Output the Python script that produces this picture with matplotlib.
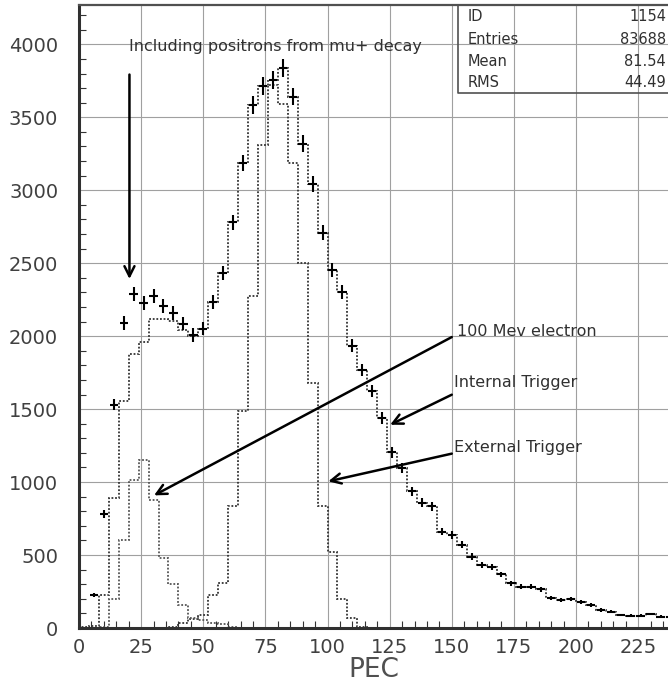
import numpy as np
import matplotlib
matplotlib.use("Agg")
import matplotlib.pyplot as plt
from matplotlib.ticker import MultipleLocator

# ---------------- data ----------------
bin_edges = np.arange(0, 244, 4)  # 0..240, 60 bins of 4 PEC

# all events (crosses), bin centres 6..238
cross_centers = np.arange(6, 242, 4)
cross_counts = [226, 780, 1530, 2090, 2290, 2225, 2275, 2205, 2160, 2085,
                2008, 2052, 2232, 2432, 2780, 3186, 3583, 3717, 3753, 3838,
                3642, 3320, 3040, 2708, 2453, 2305, 1934, 1768, 1622, 1439,
                1203, 1096, 936, 860, 833, 661, 638, 570, 489, 432,
                421, 368, 307, 284, 284, 265, 204, 192, 197, 181,
                158, 124, 112, 89, 85, 85, 96, 78, 74]

# internal trigger (dotted), one value per bin 0-4 .. 236-240
internal_counts = [5, 15, 226, 894, 1553, 1880, 1961, 2119, 2119, 2102,
                   2040, 2003, 2052, 2232, 2432, 2780, 3186, 3583, 3717, 3753,
                   3838, 3642, 3320, 3040, 2708, 2453, 2305, 1934, 1768, 1622,
                   1439, 1203, 1096, 936, 860, 833, 661, 638, 570, 489,
                   432, 421, 368, 307, 284, 284, 265, 204, 192, 197,
                   181, 158, 124, 112, 89, 85, 85, 96, 78, 74]

# external trigger (dotted)
external_counts = [0, 0, 0, 0, 0, 0, 0, 0, 0, 9,
                   32, 60, 89, 226, 307, 833, 1489, 2274, 3308, 3720,
                   3590, 3189, 2503, 1680, 833, 524, 197, 71, 5, 0,
                   0, 0, 0, 0, 0, 0, 0, 0, 0, 0,
                   0, 0, 0, 0, 0, 0, 0, 0, 0, 0,
                   0, 0, 0, 0, 0, 0, 0, 0, 0, 0]

# 100 MeV electron (dotted)
electron_counts = [0, 3, 10, 199, 604, 1011, 1148, 874, 478, 302,
                   158, 71, 55, 32, 25, 10, 0, 0, 0, 0,
                   0, 0, 0, 0, 0, 0, 0, 0, 0, 0,
                   0, 0, 0, 0, 0, 0, 0, 0, 0, 0,
                   0, 0, 0, 0, 0, 0, 0, 0, 0, 0,
                   0, 0, 0, 0, 0, 0, 0, 0, 0, 0]

stat_names = ["ID", "Entries", "Mean", "RMS"]
stat_values = ["1154", "83688", "81.54", "44.49"]

x_ticks = [0, 25, 50, 75, 100, 125, 150, 175, 200, 225]
y_ticks = [0, 500, 1000, 1500, 2000, 2500, 3000, 3500, 4000]

# ---------------- figure ----------------
fig = plt.figure(figsize=(6.68, 6.85), dpi=100)
ax = fig.add_axes([79 / 668, 57 / 685, 589 / 668, 622.6 / 685])
ax.set_xlim(0, 237.0)
ax.set_ylim(0, 4267)

grid_col = "#a0a0a0"
ax.set_xticks(x_ticks)
ax.set_yticks(y_ticks)
ax.xaxis.set_minor_locator(MultipleLocator(5))
ax.yaxis.set_minor_locator(MultipleLocator(100))
ax.grid(True, which="major", color=grid_col, lw=0.8)
ax.set_axisbelow(True)
ax.tick_params(which="both", direction="in", top=False, right=False,
               colors="#333333", labelcolor="#404040")
ax.tick_params(which="major", length=0, labelsize=14)
ax.tick_params(axis="y", which="major", pad=15)
ax.tick_params(axis="x", which="major", pad=7)
ax.tick_params(which="minor", length=5, width=0.8)

for s in ["left", "bottom"]:
    ax.spines[s].set_linewidth(2.2)
    ax.spines[s].set_color("#303030")
ax.spines["top"].set_linewidth(1.6)
ax.spines["top"].set_color("#505050")
ax.spines["right"].set_visible(False)

dot = (0, (1, 1))
ax.stairs(internal_counts, bin_edges, color="#333333", lw=1.3, linestyle=dot)
ax.stairs(external_counts, bin_edges, color="#333333", lw=1.3, linestyle=dot)
ax.stairs(electron_counts, bin_edges, color="#555555", lw=1.3, linestyle=dot)

cc = np.array(cross_counts, dtype=float)
ax.errorbar(cross_centers, cc, xerr=1.7, yerr=np.sqrt(cc), fmt="none",
            ecolor="black", elinewidth=1.5, capsize=0)

ax.set_xlabel("PEC", fontsize=19, color="#505050", labelpad=0)

txt_col = "#303030"
ax.text(20.1, 3984, "Including positrons from mu+ decay", fontsize=11.5,
        color=txt_col, va="center", ha="left")
ax.text(152.0, 2034, "100 Mev electron", fontsize=11.5, color=txt_col,
        va="center", ha="left")
ax.text(150.8, 1683, "Internal Trigger", fontsize=11.5, color=txt_col,
        va="center", ha="left")
ax.text(150.8, 1234, "External Trigger", fontsize=11.5, color=txt_col,
        va="center", ha="left")

ap = dict(arrowstyle="->", lw=1.8, color="black", mutation_scale=18,
          shrinkA=0, shrinkB=0)
ax.annotate("", xy=(20.3, 2392), xytext=(20.3, 3793), arrowprops=ap)
ax.annotate("", xy=(30.2, 909), xytext=(150, 1994), arrowprops=ap)
ax.annotate("", xy=(125.2, 1393), xytext=(150, 1599), arrowprops=ap)
ax.annotate("", xy=(100.3, 1005), xytext=(150, 1195), arrowprops=ap)

# statistics box
bx0, by0 = 0.643, 0.8585
ax.plot([bx0, bx0, 1.0], [1.0, by0, by0], transform=ax.transAxes,
        color="#505050", lw=1.2, clip_on=False)
row_y = [0.982, 0.945, 0.910, 0.876]
for name, val, yy in zip(stat_names, stat_values, row_y):
    ax.text(0.660, yy, name, transform=ax.transAxes, fontsize=10.5,
            color=txt_col, va="center", ha="left")
    ax.text(0.9966, yy, val, transform=ax.transAxes, fontsize=10.5,
            color=txt_col, va="center", ha="right")

fig.savefig("out.png", dpi=100)
